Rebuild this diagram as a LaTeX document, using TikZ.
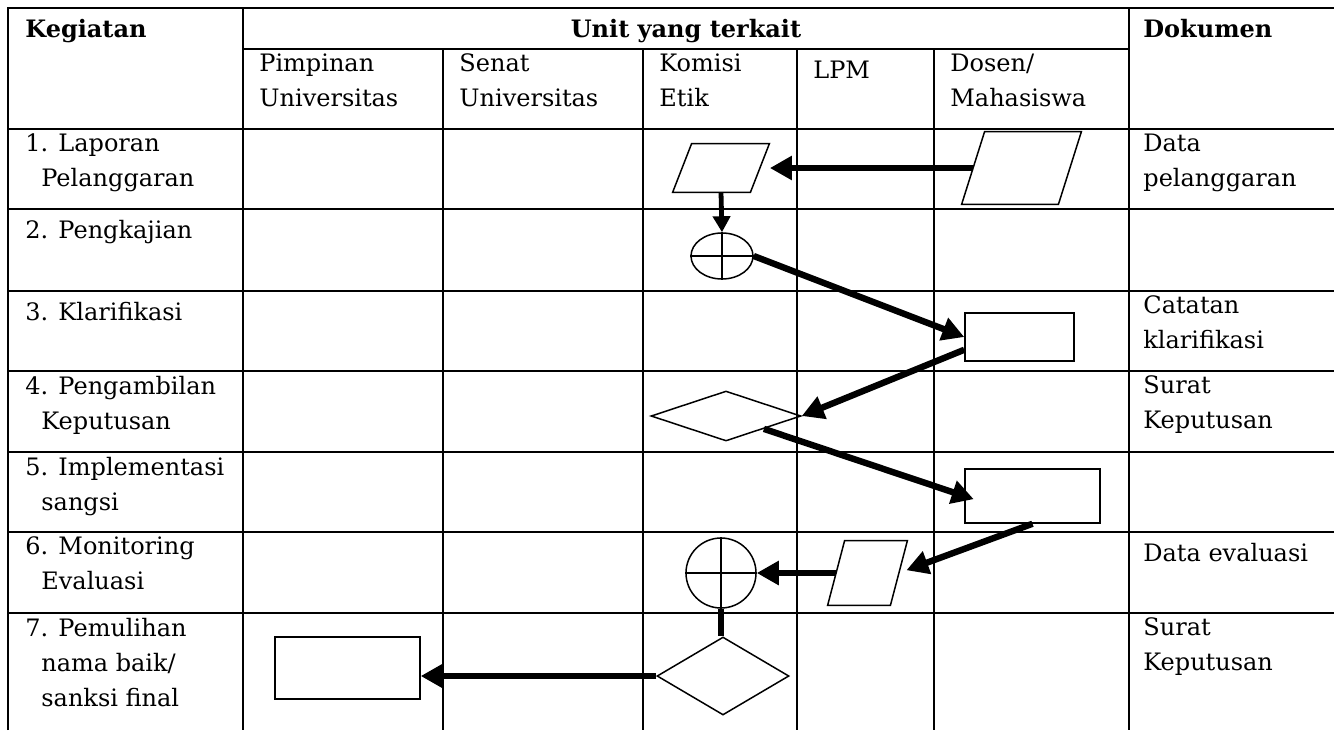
\documentclass[tikz,border=0pt]{standalone}
\usepackage{fontspec}
\setmainfont{DejaVu Serif}
\usetikzlibrary{shapes.geometric, arrows.meta}

\newcommand{\indt}{\hspace*{8pt}}

\begin{document}
\begin{tikzpicture}[x=0.5pt, y=-0.5pt,
    grid/.style={line width=1pt},
    shp/.style={draw, line width=0.75pt, inner sep=0pt},
    box/.style={inner sep=0pt},
    txt/.style={anchor=north west, inner sep=0pt, align=left,
        font=\fontsize{12}{17.5}\selectfont, execute at begin node=\strut},
    bold/.style={font=\fontsize{12}{17.5}\selectfont\bfseries},
    flow/.style={line width=3.2pt, -{Triangle[length=11pt,width=11.5pt]}}]

    \useasboundingbox (0,0) rectangle (1334,730);

    % table
    \draw[grid] (8,730) -- (8,8) -- (1334,8);
    \foreach \y in {129,209,291,371,452,532,613}
        \draw[grid] (8,\y) -- (1334,\y);
    \draw[grid] (243,8) -- (243,730) (1129,8) -- (1129,730) (243,49) -- (1129,49);
    \foreach \x in {443,643,797,934}
        \draw[grid] (\x,49) -- (\x,730);

    % headers
    \node[txt, bold] (hkeg) at (25,12.5) {Kegiatan};
    \node[txt, bold, anchor=north] (hunit) at (686,12.5) {Unit yang terkait};
    \node[txt, bold] (hdok) at (1143,12.5) {Dokumen};
    \foreach \x/\t/\n in {259/{Pimpinan\\Universitas}/upim, 459/{Senat\\Universitas}/usen,
        659/{Komisi\\Etik}/ukom, 813/{LPM}/ulpm, 950/{Dosen/\\Mahasiswa}/udos}
        \node[txt] (\n) at (\x,53.5) {\t};

    % kegiatan
    \node[txt] (k1t) at (25,133.5) {1. Laporan\\\indt Pelanggaran};
    \node[txt] (k2t) at (25,213.5) {2. Pengkajian};
    \node[txt] (k3t) at (25,295.5) {3. Klarifikasi};
    \node[txt] (k4t) at (25,375.5) {4. Pengambilan\\\indt Keputusan};
    \node[txt] (k5t) at (25,456.5) {5. Implementasi\\\indt sangsi};
    \node[txt] (k6t) at (25,536.5) {6. Monitoring\\\indt Evaluasi};
    \node[txt] (k7t) at (25,617.5) {7. Pemulihan\\\indt nama baik/\\\indt sanksi final};

    % dokumen
    \node[txt] (d1t) at (1143,133.5) {Data\\pelanggaran};
    \node[txt] (d3t) at (1143,295.5) {Catatan\\klarifikasi};
    \node[txt] (d4t) at (1143,375.5) {Surat\\Keputusan};
    \node[txt] (d6t) at (1143,536.5) {Data evaluasi};
    \node[txt] (d7t) at (1143,617.5) {Surat\\Keputusan};

    % flow shapes
    \node[box, minimum width=38.5pt, minimum height=24pt] (lap) at (721,168) {};
    \node[box, minimum width=48pt, minimum height=36pt] (dos) at (1021.5,168) {};
    \node[box, minimum width=31pt, minimum height=32pt] (eval) at (867.5,573) {};
    \foreach \p/\s in {lap/4.75pt, dos/5.75pt, eval/4.25pt}
        \draw[line width=0.75pt] ([xshift=\s]\p.north west) -- ([xshift=\s]\p.north east)
            -- ([xshift=-\s]\p.south east) -- ([xshift=-\s]\p.south west) -- cycle;
    \node[shp, ellipse, minimum width=31pt, minimum height=23pt] (kaji) at (722,256) {};
    \draw[line width=0.75pt] (kaji.north) -- (kaji.south) (kaji.west) -- (kaji.east);
    \node[shp, rectangle, minimum width=54.5pt, minimum height=24pt] (klar) at (1019.5,337) {};
    \node[shp, diamond, minimum width=75pt, minimum height=25pt] (putus) at (726,416) {};
    \node[shp, rectangle, minimum width=67.5pt, minimum height=27pt] (sangsi) at (1032.5,496) {};
    \node[shp, circle, minimum size=35pt] (mon) at (721,573) {};
    \draw[line width=0.75pt] (mon.north) -- (mon.south) (mon.west) -- (mon.east);
    \node[shp, diamond, minimum width=66pt, minimum height=39pt] (final) at (723,676) {};
    \node[shp, rectangle, minimum width=72.5pt, minimum height=31pt] (pulih) at (347.5,668) {};

    % arrows
    \draw[flow, shorten >=5pt] (dos.west) -- (lap.east);
    \draw[line width=2.4pt, -{Triangle[length=8pt,width=8.5pt]}] (lap.south) -- (kaji.north);
    \draw[flow] (kaji.east) -- (klar.west);
    \draw[flow] (klar.-167) -- (putus.east);
    \draw[flow, shorten >=-5pt] (putus.south east) -- (sangsi.west);
    \draw[flow, shorten >=4pt] (sangsi.south) -- (eval.east);
    \draw[flow] (eval.west) -- (mon.east);
    \draw[line width=3.2pt] (mon.south) -- (mon.south |- final.north);
    \draw[flow] (final.west) -- (pulih.east |- final.west);
\end{tikzpicture}
\end{document}
